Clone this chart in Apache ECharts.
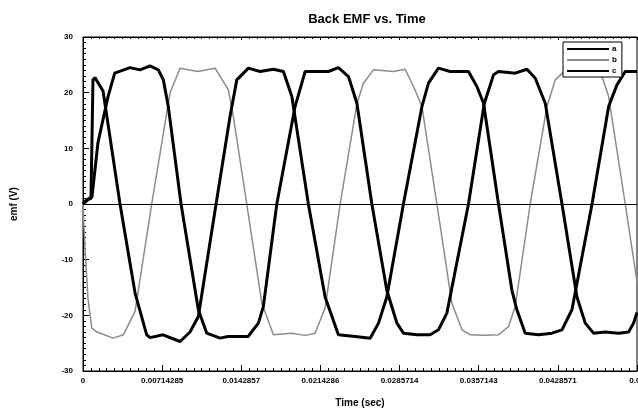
<!DOCTYPE html>
<html>
<head>
<meta charset="utf-8">
<script src="https://cdn.jsdelivr.net/npm/echarts@6/dist/echarts.min.js"></script>
<style>
  html, body { margin: 0; padding: 0; background: #fff; }
  #chart { width: 638px; height: 408px; }
</style>
</head>
<body>
<div id="chart"></div>
<script>
// time in seconds, emf in volts
var timeA = [0, 0.00036, 0.00072, 0.00090, 0.00108, 0.00181, 0.00334, 0.00470, 0.00575, 0.00605,
  0.00722, 0.00876, 0.00966, 0.01041, 0.01201, 0.01327, 0.01388, 0.01493, 0.01598, 0.01718,
  0.01809, 0.01885, 0.02034, 0.02185, 0.02305, 0.02456, 0.02592, 0.02667, 0.02742, 0.02892,
  0.03059, 0.03118, 0.03208, 0.03314, 0.03479, 0.03555, 0.03615, 0.03750, 0.03871, 0.03916,
  0.03991, 0.04111, 0.04232, 0.04323, 0.04413, 0.04594, 0.04744, 0.04819, 0.04894, 0.05];
var emfA = [0, 0.8, 1, 22.3, 22.7, 20.3, 0, -16, -23.5, -24,
  -23.5, -24.7, -23, -20.2, 0, 15.7, 22.3, 24.4, 23.8, 24.2,
  23.8, 19.3, 0, -16.7, -23.5, -23.8, -24.1, -21.4, -16.7, 0,
  17.5, 21.7, 24.4, 23.8, 23.8, 21.1, 18.1, 0, -15.5, -19,
  -23.2, -23.5, -23.2, -22.6, -19, 0, 17.5, 21.4, 23.8, 23.8];

var timeB = [0, 0.00018, 0.00045, 0.00079, 0.00126, 0.00271, 0.00364, 0.00470, 0.00620, 0.00786,
  0.00876, 0.01038, 0.01192, 0.01312, 0.01357, 0.01478, 0.01614, 0.01718, 0.01885, 0.02005,
  0.02095, 0.02185, 0.02321, 0.02472, 0.02531, 0.02621, 0.02802, 0.02908, 0.02983, 0.03059,
  0.03194, 0.03329, 0.03420, 0.03495, 0.03615, 0.03750, 0.03841, 0.03901, 0.04036, 0.04187,
  0.04262, 0.04353, 0.04578, 0.04684, 0.04744, 0.04894, 0.05];
var emfB = [0, -8, -17, -22.3, -23, -24.1, -23.5, -19.3, 0, 20,
  24.4, 23.8, 24.4, 20.5, 15.7, 0, -17.8, -23.5, -23.2, -23.6,
  -23.2, -18.7, 0, 18, 21.7, 24.1, 23.8, 24.2, 21.1, 17.5,
  0, -17.8, -22.6, -23.5, -23.6, -23.5, -22, -18.4, 0, 17.5,
  22.3, 24, 24, 22.9, 19.3, 0, -14];

var timeC = [0, 0.00045, 0.00081, 0.00135, 0.00226, 0.00286, 0.00424, 0.00515, 0.00605, 0.00680,
  0.00725, 0.00770, 0.00885, 0.01041, 0.01117, 0.01237, 0.01309, 0.01490, 0.01583, 0.01628,
  0.01749, 0.01914, 0.02005, 0.02215, 0.02305, 0.02396, 0.02472, 0.02607, 0.02742, 0.02833,
  0.02892, 0.03013, 0.03133, 0.03208, 0.03284, 0.03479, 0.03621, 0.03705, 0.03750, 0.03901,
  0.04007, 0.04082, 0.04172, 0.04323, 0.04458, 0.04533, 0.04608, 0.04714, 0.04834, 0.04924,
  0.04969, 0.05];
var emfC = [0, 0.8, 1.3, 11, 19.3, 23.5, 24.5, 24.1, 24.8, 24.1,
  22.3, 17.5, 0, -19, -23.2, -24.1, -23.8, -23.8, -21.4, -18.4,
  0, 17.5, 23.8, 23.8, 24.5, 22.9, 18.1, 0, -15.5, -21.4,
  -23.2, -23.5, -23.5, -22.6, -19.6, 0, 18, 23.2, 23.8, 23.5,
  24.2, 22.6, 18.1, 0, -16.7, -21.4, -23.2, -23, -23.2, -23,
  -21.4, -19.5];

var seriesNames = ['a', 'b', 'c'];
var xTickLabels = ['0', '0.00714285', '0.0142857', '0.0214286', '0.0285714', '0.0357143', '0.0428571', '0.05'];
var xMax = 0.05;
var xStep = xMax / 7;

function pairs(t, v) {
  return t.map(function (x, i) { return [x, v[i]]; });
}

var chart = echarts.init(document.getElementById('chart'));

var tickFont = { color: '#000', fontSize: 8, fontWeight: 'bold', fontFamily: 'Arial, Liberation Sans, sans-serif' };

var option = {
  animation: false,
  backgroundColor: '#fff',
  title: {
    text: 'Back EMF vs. Time',
    left: 362,
    textAlign: 'center',
    top: 8,
    textStyle: { fontSize: 13, fontWeight: 'bold', color: '#000', fontFamily: 'Arial, Liberation Sans, sans-serif' }
  },
  legend: {
    data: seriesNames,
    orient: 'vertical',
    left: 563,
    top: 42,
    padding: [3, 5, 2, 3],
    itemWidth: 42,
    itemHeight: 6,
    itemGap: 3,
    backgroundColor: '#fff',
    borderColor: '#000',
    borderWidth: 1,
    borderRadius: 0,
    itemStyle: { opacity: 0 },
    textStyle: { fontSize: 8, lineHeight: 8, fontWeight: 'bold', color: '#000', padding: [0, 0, 0, -2] }
  },
  grid: {
    left: 83, right: 1, top: 37, bottom: 37,
    outerBoundsMode: 'none',
    containLabel: false,
    show: true, borderColor: '#000', borderWidth: 1
  },
  xAxis: [{
    type: 'value',
    min: 0, max: xMax, interval: xStep,
    name: 'Time (sec)',
    nameLocation: 'middle',
    nameGap: 27,
    nameTextStyle: { fontSize: 10, fontWeight: 'bold', color: '#000' },
    axisLine: { onZero: false, lineStyle: { color: '#000' } },
    axisTick: { inside: true, length: 6, lineStyle: { color: '#000' } },
    minorTick: { show: true, splitNumber: 10, length: 3, lineStyle: { color: '#000' } },
    splitLine: { show: false },
    axisLabel: Object.assign({
      margin: 6,
      formatter: function (v) { return xTickLabels[Math.round(v / xStep)]; }
    }, tickFont)
  }, {
    type: 'value',
    position: 'top',
    min: 0, max: xMax, interval: xStep,
    axisLine: { onZero: false, lineStyle: { color: '#000' } },
    axisTick: { inside: true, length: 3, lineStyle: { color: '#000' } },
    minorTick: { show: true, splitNumber: 10, length: 2, lineStyle: { color: '#000' } },
    splitLine: { show: false },
    axisLabel: { show: false }
  }],
  yAxis: {
    type: 'value',
    min: -30, max: 30, interval: 10,
    name: 'emf (V)',
    nameLocation: 'middle',
    nameGap: 64,
    nameTextStyle: { fontSize: 10, fontWeight: 'bold', color: '#000' },
    axisLine: { onZero: false, lineStyle: { color: '#000' } },
    axisTick: { inside: true, length: 6, lineStyle: { color: '#000' } },
    minorTick: { show: true, splitNumber: 10, length: 3, lineStyle: { color: '#000' } },
    splitLine: { show: false },
    axisLabel: Object.assign({ margin: 10 }, tickFont)
  },
  series: [{
    name: seriesNames[0],
    type: 'line',
    data: pairs(timeA, emfA),
    symbol: 'none',
    lineStyle: { color: '#000', width: 3 },
    itemStyle: { color: '#000' },
    z: 3
  }, {
    name: seriesNames[1],
    type: 'line',
    data: pairs(timeB, emfB),
    symbol: 'none',
    lineStyle: { color: '#8c8c8c', width: 1.5 },
    itemStyle: { color: '#8c8c8c' },
    z: 2,
    markLine: {
      silent: true,
      symbol: 'none',
      label: { show: false },
      lineStyle: { color: '#000', width: 1, type: 'solid' },
      data: [{ yAxis: 0 }]
    }
  }, {
    name: seriesNames[2],
    type: 'line',
    data: pairs(timeC, emfC),
    symbol: 'none',
    lineStyle: { color: '#000', width: 3 },
    itemStyle: { color: '#000' },
    z: 3
  }]
};

chart.setOption(option);
</script>
</body>
</html>
